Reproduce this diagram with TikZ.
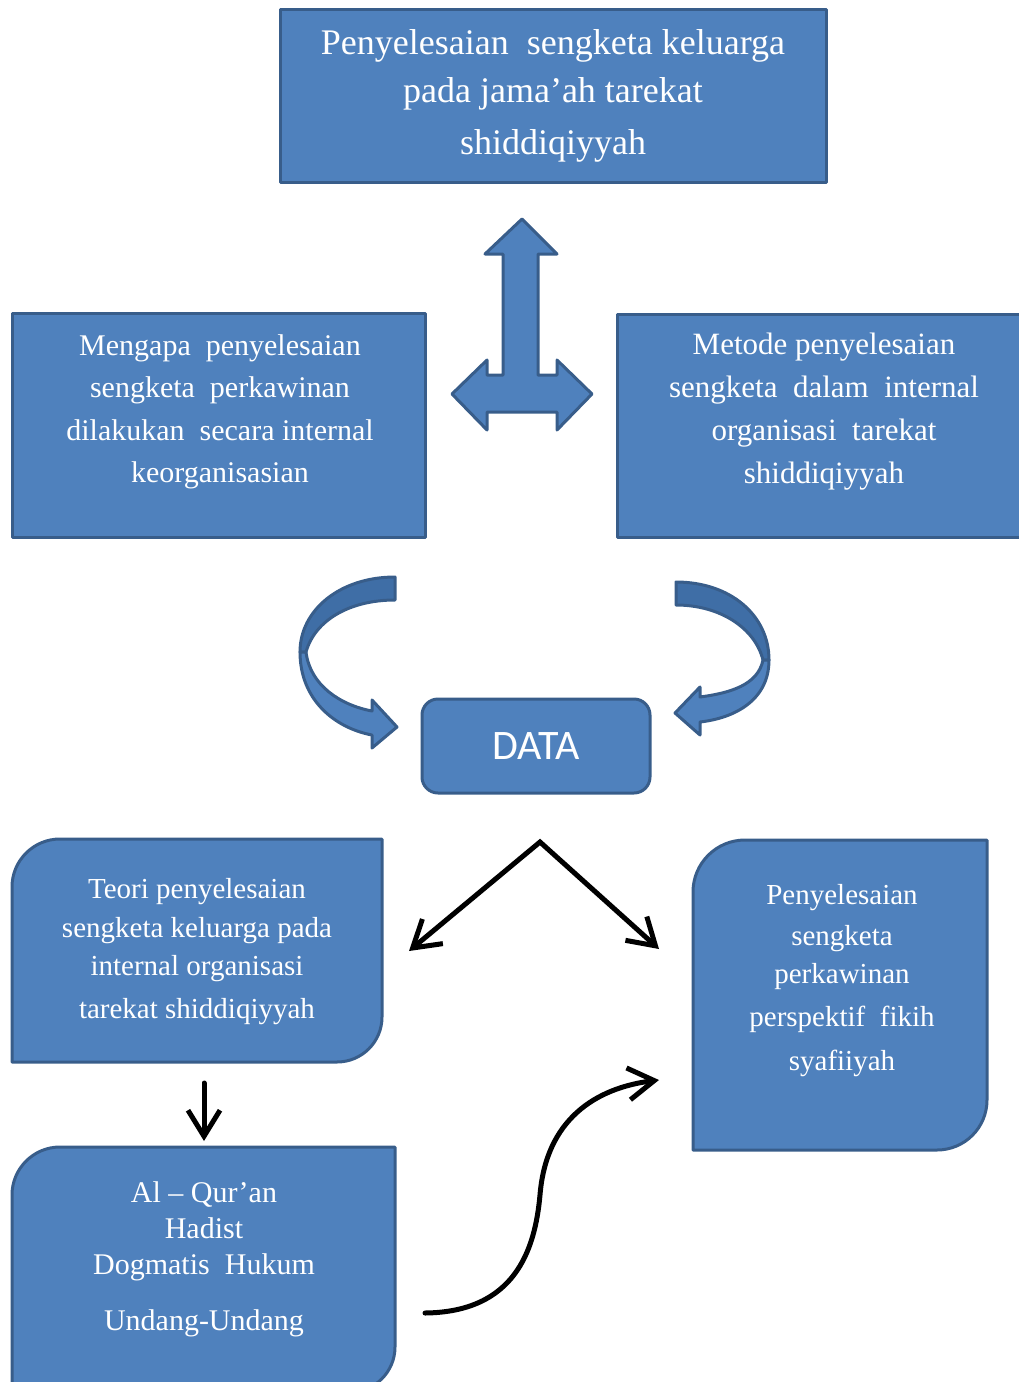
\documentclass[tikz,border=0pt]{standalone}
\usepackage{fontspec}
\setmainfont{Liberation Serif}
\newfontfamily\datafont{Carlito}
\usetikzlibrary{arrows.meta}
\definecolor{boxblue}{HTML}{4F81BD}
\definecolor{edgeblue}{HTML}{385D8A}
\definecolor{bandblue}{HTML}{3F6EA6}

\begin{document}
\begin{tikzpicture}[x=1pt,y=-1pt]
	\tikzstyle{shade} = [draw=edgeblue, fill=boxblue, line width=3pt, line join=round]
	\tikzstyle{txt} = [text=white, align=center, inner sep=0pt]
	\tikzstyle{link} = [line width=5pt, line cap=round, line join=miter]
	\tikzset{>={Straight Barb[length=26pt,width=32pt]}}
	\useasboundingbox (0,0) rectangle (1019,1382);

	\draw[shade] (280,9) rectangle (826,182); \draw[shade] (12,313) rectangle (425,537); \draw[shade] (617,314) rectangle (1030,537);
	\draw[shade] (12,1062) -- (12,887) arc[start angle=180, end angle=270, radius=48] -- (382,839) -- (382,1017) arc[start angle=0, end angle=90, radius=45] -- cycle;
	\draw[shade] (693,1150) -- (693,892) arc[start angle=180, end angle=270, radius=52] -- (987,840) -- (987,1100) arc[start angle=0, end angle=90, radius=50] -- cycle;
	\draw[shade] (12,1392) -- (12,1195) arc[start angle=180, end angle=270, radius=48] -- (395,1147) -- (395,1347) arc[start angle=0, end angle=90, radius=45] -- cycle;

	\node[txt, font=\fontsize{36}{48}\selectfont] (judul) at (553,96) {Penyelesaian\ \ sengketa keluarga\\ pada jama’ah tarekat\\[4pt] shiddiqiyyah};
	\node[txt, font=\fontsize{30}{42.5}\selectfont] (mengapa) at (220,412) {Mengapa\ \ penyelesaian\\ sengketa\ \ perkawinan\\ dilakukan\ \ secara internal\\ keorganisasian};
	\node[txt, font=\fontsize{31}{43}\selectfont] (metode) at (824,412) {Metode penyelesaian\\ sengketa\ \ dalam\ \ internal\\ organisasi\ \ tarekat\\ shiddiqiyyah};
	\node[shade, rounded corners=16pt, minimum width=228pt, minimum height=94pt, text=white, inner sep=0pt, font=\datafont\fontsize{42}{46}\selectfont] (data) at (536,746) {DATA};
	\node[txt, font=\fontsize{29}{38.5}\selectfont] (teori) at (197,952) {Teori penyelesaian\\ sengketa keluarga pada\\ internal organisasi\\[4.5pt] tarekat shiddiqiyyah};
	\node[txt, font=\fontsize{29}{41}\selectfont] (fikih) at (842,981) {Penyelesaian\\ sengketa\\[-3pt] perkawinan\\[2pt] perspektif\ \ fikih\\[3pt] syafiiyah};
	\node[txt, font=\fontsize{30}{36}\selectfont] (sumber) at (204,1259) {Al -- Qur’an\\ Hadist\\ Dogmatis\ \ Hukum\\[20pt] Undang-Undang};

	\draw[shade] (522,219) -- (557,254) -- (538,254) -- (538,375) -- (557,375) -- (557,360) -- (592,394) -- (557,430) -- (557,412) -- (487,412) -- (487,430) -- (452,394) -- (487,360) -- (487,375) -- (503,375) -- (503,254) -- (485,254) -- cycle;

	\draw[shade, fill=bandblue] (395,577) .. controls (340,577) and (300,610) .. (300,652) -- (306,652) .. controls (315,620) and (350,600) .. (395,600) -- cycle;
	\draw[shade] (300,652) .. controls (300,700) and (335,728) .. (372,735) -- (372,748) -- (397,727) -- (372,700) -- (372,711) .. controls (340,705) and (310,685) .. (306,652) -- cycle;
	\draw[shade, fill=bandblue] (676,582) .. controls (730,582) and (769,615) .. (769,660) -- (763,660) .. controls (755,628) and (720,605) .. (676,605) -- cycle;
	\draw[shade] (769,660) .. controls (769,700) and (735,718) .. (700,722) -- (700,735) -- (675,713) -- (700,687) -- (700,697) .. controls (730,693) and (758,685) .. (763,660) -- cycle;

	\coordinate (apex) at (540,842); \coordinate (kiri) at (409,951); \coordinate (kanan) at (659,949);
	\coordinate (turun) at (204,1083); \coordinate (tiba) at (204,1141);
	\coordinate (awal) at (425,1313); \coordinate (akhir) at (659,1080);
	\draw[link, <->] (kiri) -- (apex) -- (kanan);
	\draw[link, ->] (turun) -- (tiba);
	\draw[link, ->] (awal) .. controls (515,1312) and (535,1250) .. (540,1195) .. controls (546,1120) and (595,1088) .. (akhir);
\end{tikzpicture}
\end{document}
